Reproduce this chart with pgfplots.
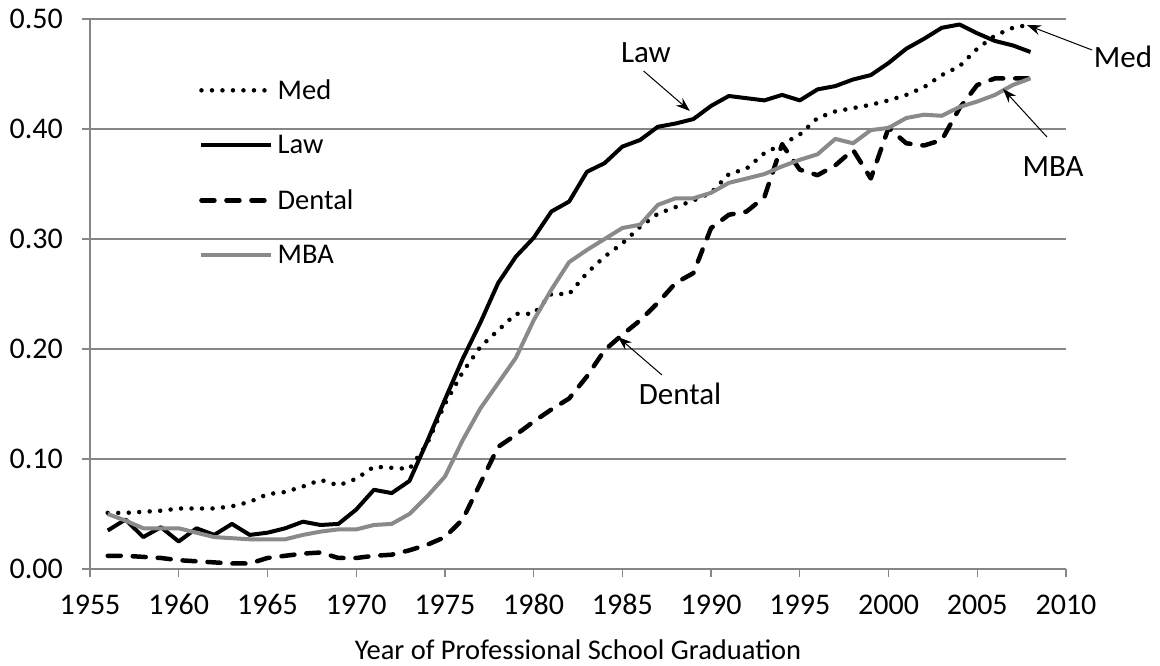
\documentclass[border=0pt]{standalone}
\usepackage{pgfplots}
\pgfplotsset{compat=1.18}
\usepackage{pgfplotstable}
\usepackage{fontspec}
\setmainfont{Carlito}
\usetikzlibrary{arrows.meta}
\definecolor{mbagray}{RGB}{138,138,138}
\definecolor{gridgray}{RGB}{134,134,134}

\pgfplotstableread{
year med law dental mba
1956 0.051 0.035 0.012 0.050
1957 0.051 0.045 0.012 0.044
1958 0.052 0.029 0.011 0.037
1959 0.053 0.038 0.010 0.037
1960 0.055 0.025 0.008 0.037
1961 0.055 0.037 0.007 0.033
1962 0.055 0.031 0.006 0.029
1963 0.057 0.041 0.005 0.028
1964 0.061 0.031 0.005 0.027
1965 0.068 0.033 0.010 0.027
1966 0.070 0.037 0.012 0.027
1967 0.075 0.043 0.014 0.031
1968 0.081 0.040 0.015 0.034
1969 0.076 0.041 0.010 0.036
1970 0.082 0.054 0.010 0.036
1971 0.093 0.072 0.012 0.040
1972 0.092 0.069 0.013 0.041
1973 0.091 0.080 0.017 0.050
1974 0.114 0.116 0.022 0.066
1975 0.150 0.154 0.029 0.084
1976 0.179 0.191 0.045 0.117
1977 0.202 0.224 0.078 0.146
1978 0.217 0.260 0.111 0.169
1979 0.232 0.284 0.122 0.192
1980 0.232 0.301 0.134 0.226
1981 0.250 0.325 0.145 0.254
1982 0.250 0.334 0.155 0.279
1983 0.269 0.361 0.175 0.290
1984 0.284 0.369 0.199 0.300
1985 0.296 0.384 0.213 0.310
1986 0.311 0.390 0.226 0.313
1987 0.323 0.402 0.242 0.331
1988 0.329 0.405 0.260 0.337
1989 0.335 0.409 0.269 0.337
1990 0.342 0.421 0.310 0.342
1991 0.359 0.430 0.322 0.351
1992 0.364 0.428 0.325 0.355
1993 0.378 0.426 0.338 0.359
1994 0.386 0.431 0.386 0.366
1995 0.395 0.426 0.363 0.372
1996 0.410 0.436 0.358 0.377
1997 0.416 0.439 0.367 0.391
1998 0.419 0.445 0.381 0.387
1999 0.422 0.449 0.355 0.399
2000 0.426 0.460 0.401 0.401
2001 0.431 0.473 0.387 0.410
2002 0.438 0.482 0.385 0.413
2003 0.449 0.492 0.390 0.412
2004 0.457 0.495 0.419 0.420
2005 0.473 0.487 0.440 0.425
2006 0.485 0.480 0.446 0.431
2007 0.492 0.476 0.446 0.440
2008 0.495 0.470 0.446 0.446
}\datatable

\begin{document}
\begin{tikzpicture}
\begin{axis}[
  at={(0pt,0pt)}, anchor=origin,
  scale only axis,
  width=976pt, height=550pt,
  xmin=1955, xmax=2010, ymin=0, ymax=0.5,
  axis x line*=bottom, axis y line*=left,
  axis line style={gridgray, line width=1.3pt},
  xtick={1955,1960,...,2010},
  ytick={0,0.1,0.2,0.3,0.4,0.5},
  tick style={gridgray, line width=1.3pt},
  tick align=outside,
  major tick length=8pt,
  ymajorgrids,
  grid style={gridgray, line width=1.3pt},
  font=\fontsize{28.5}{33}\selectfont,
  tick label style={font=\fontsize{30}{35}\selectfont},
  /pgf/number format/assume math mode=true,
  xticklabel style={/pgf/number format/1000 sep={}, inner sep=0pt, anchor=base, yshift=-38pt},
  yticklabel style={/pgf/number format/.cd, fixed, fixed zerofill, precision=2, /tikz/.cd, inner sep=0pt, anchor=east, xshift=-19pt},
  xlabel={Year of Professional School Graduation},
  xlabel style={inner sep=0pt, anchor=base, at={(axis description cs:0.5,0)}, yshift=-91pt},
  clip=false,
  legend cell align=left,
  legend image code/.code={\draw[#1] (0pt,0pt) -- (70pt,0pt);},
  legend style={draw=none, fill=none, at={(rel axis cs:0.1117,0.89)}, anchor=north west,
    inner sep=0pt, row sep=34.5pt, font=\fontsize{28.5}{33}\selectfont,
    nodes={inner sep=0pt}, /tikz/every odd column/.append style={column sep=4pt}},
  every axis plot/.append style={line join=round},
]
\addplot[black, line width=4.5pt, line cap=round, dash pattern=on 0pt off 10.5pt] table[x=year,y=med]{\datatable};
\addlegendentry{Med}
\addplot[black, line width=4pt] table[x=year,y=law]{\datatable};
\addlegendentry{Law}
\addplot[black, line width=4.5pt, line cap=round, dash pattern=on 13pt off 12pt] table[x=year,y=dental]{\datatable};
\addlegendentry{Dental}
\addplot[mbagray, line width=4pt] table[x=year,y=mba]{\datatable};
\addlegendentry{MBA}

\draw[-{Stealth[length=14pt,width=10pt]}, line width=1pt] (axis cs:1986.2,0.4527) -- (axis cs:1988.8,0.4164);
\node[anchor=base, inner sep=0pt, font=\fontsize{31}{36}\selectfont] at (axis cs:1986.33,0.4600) {Law};
\draw[-{Stealth[length=14pt,width=10pt]}, line width=1pt] (axis cs:2011.47,0.4718) -- (axis cs:2007.8,0.4945);
\node[anchor=base, inner sep=0pt, font=\fontsize{31}{36}\selectfont] at (axis cs:2013.21,0.4555) {Med};
\draw[-{Stealth[length=14pt,width=10pt]}, line width=1pt] (axis cs:2008.93,0.3927) -- (axis cs:2006.45,0.4364);
\node[anchor=base, inner sep=0pt, font=\fontsize{31}{36}\selectfont] at (axis cs:2009.27,0.3564) {MBA};
\draw[-{Stealth[length=14pt,width=10pt]}, line width=1pt] (axis cs:1987.23,0.1764) -- (axis cs:1984.75,0.2109);
\node[anchor=base, inner sep=0pt, font=\fontsize{31}{36}\selectfont] at (axis cs:1988.25,0.1491) {Dental};
\end{axis}
\path[use as bounding box] (-90pt,-97pt) rectangle (1070pt,569pt);
\end{tikzpicture}
\end{document}
